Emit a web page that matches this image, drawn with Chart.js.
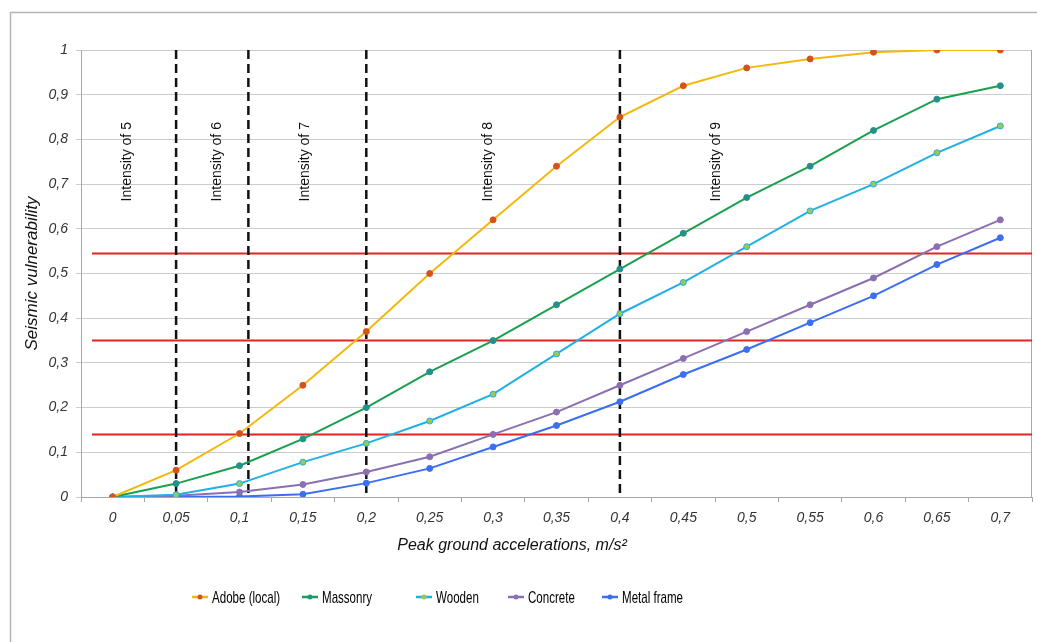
<!DOCTYPE html>
<html lang="en">
<head>
  <meta charset="UTF-8">
  <title>Seismic vulnerability</title>
  <script src="https://cdn.jsdelivr.net/npm/chart.js"></script>
  <style>
    body { margin: 0; background: #fff; }
    #wrap { width: 1037px; height: 642px; }
  </style>
</head>
<body>
  <div id="wrap">
    <canvas id="myChart" width="1037" height="642"></canvas>
  </div>
<script>
  // categories (peak ground acceleration, m/s2)
  const pga = [0, 0.05, 0.1, 0.15, 0.2, 0.25, 0.3, 0.35, 0.4, 0.45, 0.5, 0.55, 0.6, 0.65, 0.7];

  // series
  const adobe    = [0, 0.06, 0.142, 0.25, 0.37, 0.50, 0.62, 0.74, 0.85, 0.92, 0.96, 0.98, 0.995, 1.0, 1.0];
  const massonry = [0, 0.03, 0.07, 0.13, 0.20, 0.28, 0.35, 0.43, 0.51, 0.59, 0.67, 0.74, 0.82, 0.89, 0.92];
  const wooden   = [0, 0.005, 0.03, 0.078, 0.12, 0.17, 0.23, 0.32, 0.41, 0.48, 0.56, 0.64, 0.70, 0.77, 0.83];
  const concrete = [0, 0.003, 0.011, 0.028, 0.056, 0.09, 0.14, 0.19, 0.25, 0.31, 0.37, 0.43, 0.49, 0.56, 0.62];
  const metal    = [0, 0, 0.001, 0.006, 0.031, 0.064, 0.112, 0.16, 0.213, 0.274, 0.33, 0.39, 0.45, 0.52, 0.58];

  // y axis ticks
  const yTicks = [0, 0.1, 0.2, 0.3, 0.4, 0.5, 0.6, 0.7, 0.8, 0.9, 1];

  // thresholds: red horizontal lines (vulnerability), dashed intensity limits (pga)
  const redLevels = [0.14, 0.35, 0.545];
  const intensityLimits = [0.05, 0.107, 0.2, 0.4];
  const intensityNames = ['Intensity of 5', 'Intensity of 6', 'Intensity of 7', 'Intensity of 8', 'Intensity of 9'];
  const intensityAt = [0.011, 0.082, 0.152, 0.296, 0.476];
  const intensityLevel = 0.75;

  const labels = pga.map(v => String(v).replace('.', ','));
  const comma = v => String(Math.round(v * 100) / 100).replace('.', ',');

  // pga value -> category index (step 0.05)
  const idx = v => v / 0.05;

  const serie = (label, data, line, fill, border) => ({
    label: label,
    data: data,
    borderColor: line,
    backgroundColor: line,
    pointBackgroundColor: fill,
    pointBorderColor: border,
    pointBorderWidth: 1,
    pointRadius: 3,
    borderWidth: 2,
    tension: 0,
    fill: false
  });

  const dados = {
    labels: labels,
    datasets: [
      serie('Adobe (local)', adobe, '#f3b80c', '#d4531a', '#d4531a'),
      serie('Massonry', massonry, '#19a04e', '#23918a', '#23918a'),
      serie('Wooden', wooden, '#1fb0e4', '#9cc85a', '#1fb0e4'),
      serie('Concrete', concrete, '#8a70b2', '#8a70b2', '#8a70b2'),
      serie('Metal frame', metal, '#3c6ef2', '#3c6ef2', '#3c6ef2')
    ]
  };

  // frame, red levels, dashed limits, intensity texts, x title, legend
  const extras = {
    id: 'extras',
    beforeDraw(chart) {
      const c = chart.ctx;
      c.save();
      c.strokeStyle = '#b4b4b4';
      c.lineWidth = 1.5;
      c.beginPath();
      c.moveTo(10.5, 642);
      c.lineTo(10.5, 12.5);
      c.lineTo(1037, 12.5);
      c.stroke();
      c.restore();
    },
    beforeDatasetsDraw(chart) {
      const c = chart.ctx;
      const a = chart.chartArea;
      const x = chart.scales.x, y = chart.scales.y;
      c.save();
      // right border of plot
      c.strokeStyle = '#a8a8a8';
      c.lineWidth = 1;
      c.beginPath();
      c.moveTo(a.right - 0.5, a.top);
      c.lineTo(a.right - 0.5, a.bottom);
      c.stroke();

      c.strokeStyle = '#e22424';
      c.lineWidth = 2;
      redLevels.forEach(v => {
        const py = y.getPixelForValue(v);
        c.beginPath();
        c.moveTo(a.left + 11, py);
        c.lineTo(a.right, py);
        c.stroke();
      });

      c.strokeStyle = '#111';
      c.lineWidth = 2.5;
      c.setLineDash([9, 5]);
      intensityLimits.forEach(v => {
        const px = x.getPixelForValue(idx(v));
        c.beginPath();
        c.moveTo(px, a.top);
        c.lineTo(px, a.bottom - 4);
        c.stroke();
      });
      c.setLineDash([]);

      c.fillStyle = '#111';
      c.font = '14px "Liberation Sans", Arial, sans-serif';
      c.textAlign = 'center';
      c.textBaseline = 'middle';
      intensityNames.forEach((t, i) => {
        c.save();
        c.translate(x.getPixelForValue(idx(intensityAt[i])), y.getPixelForValue(intensityLevel));
        c.rotate(-Math.PI / 2);
        c.fillText(t, 0, 0);
        c.restore();
      });
      c.restore();
    },
    afterDraw(chart) {
      const c = chart.ctx;
      c.save();
      c.fillStyle = '#111';
      c.font = 'italic 16px "Liberation Sans", Arial, sans-serif';
      c.textAlign = 'center';
      c.textBaseline = 'middle';
      c.fillText('Peak ground accelerations, m/s²', 512, 546);

      // legend
      const pos = [200, 310, 424, 516, 610];
      const ly = 597;
      chart.data.datasets.forEach((ds, i) => {
        const cx = pos[i];
        c.strokeStyle = ds.borderColor;
        c.lineWidth = 2.5;
        c.beginPath();
        c.moveTo(cx - 8, ly);
        c.lineTo(cx + 8, ly);
        c.stroke();
        c.fillStyle = ds.pointBackgroundColor;
        c.beginPath();
        c.arc(cx, ly, 2.5, 0, Math.PI * 2);
        c.fill();
        c.save();
        c.translate(cx + 12, ly);
        c.scale(0.68, 1);
        c.fillStyle = '#000';
        c.font = '17px "Liberation Sans", Arial, sans-serif';
        c.textAlign = 'left';
        c.textBaseline = 'middle';
        c.fillText(ds.label, 0, 1);
        c.restore();
      });
      c.restore();
    }
  };

  const config = {
    type: 'line',
    data: dados,
    options: {
      responsive: false,
      animation: false,
      layout: { padding: { left: 10, top: 50, right: 3, bottom: 0 } },
      plugins: {
        legend: { display: false },
        tooltip: { enabled: false }
      },
      scales: {
        x: {
          offset: true,
          grid: { display: true, drawOnChartArea: false, offset: true, tickLength: 5, color: '#a8a8a8' },
          border: { display: true, color: '#a8a8a8' },
          ticks: {
            color: '#333',
            padding: 8,
            maxRotation: 0,
            autoSkip: false,
            font: { family: '"Liberation Sans", Arial, sans-serif', size: 14, style: 'italic' }
          },
          afterFit(s) { s.height = 145; }
        },
        y: {
          min: 0,
          max: 1,
          afterBuildTicks(s) { s.ticks = yTicks.map(v => ({ value: v })); },
          grid: { color: '#cccccc', tickLength: 5 },
          border: { display: true, color: '#a8a8a8' },
          ticks: {
            color: '#333',
            padding: 8,
            callback: v => comma(v),
            font: { family: '"Liberation Sans", Arial, sans-serif', size: 14, style: 'italic' }
          },
          title: {
            display: true,
            text: 'Seismic vulnerability',
            color: '#111',
            padding: { top: 12, bottom: 0 },
            font: { family: '"Liberation Sans", Arial, sans-serif', size: 17, style: 'italic' }
          },
          afterFit(s) { s.width = 71; }
        }
      }
    },
    plugins: [extras]
  };

  let myChart = new Chart(document.getElementById('myChart'), config);
</script>
</body>
</html>
